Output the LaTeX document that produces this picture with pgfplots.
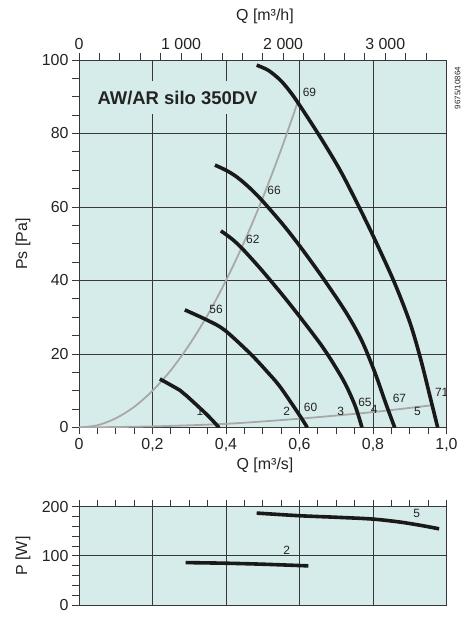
\documentclass[border=0pt]{standalone}
\usepackage{fontspec}
\setmainfont{Liberation Sans}
\usepackage{pgfplots}
\pgfplotsset{compat=1.18}
\definecolor{bgcol}{RGB}{214,236,234}
\definecolor{curvegray}{RGB}{168,168,168}
\definecolor{curveblack}{RGB}{25,25,25}
\definecolor{gridcol}{RGB}{55,55,55}
\definecolor{txt}{RGB}{35,35,35}
\tikzset{lbl/.style={font=\fontsize{12}{14}\selectfont, text=txt, inner sep=0pt}}
\begin{document}
\begin{tikzpicture}[font=\fontsize{16}{19}\selectfont]
\pgfplotsset{
  common/.style={
    scale only axis, width=367.5bp,
    xmin=0, xmax=1,
    axis background/.style={fill=bgcol},
    tick align=outside,
    major tick length=7bp, minor tick length=7bp,
    every tick/.style={gridcol, line width=0.8bp},
    every minor tick/.style={gridcol, line width=0.8bp},
    axis line style={gridcol, line width=0.9bp},
    major grid style={gridcol, line width=0.8bp},
    grid=major,
    ticklabel style={font=\fontsize{16}{19}\selectfont, text=txt},
    /pgf/number format/assume math mode=true,
  },
  fan/.style={curveblack, line width=3.6bp, smooth, tension=0.5, no marks},
  sys/.style={curvegray, line width=1.8bp, smooth, no marks},
}
% ---------- main chart ----------
\begin{axis}[common, at={(0,0)}, anchor=south west, height=367.5bp,
  ymin=0, ymax=100,
  xtick={0,0.2,0.4,0.6,0.8,1}, xticklabels={0,{0,2},{0,4},{0,6},{0,8},{1,0}},
  minor x tick num=3,
  ytick={0,20,40,60,80,100}, minor y tick num=3,
  xtick pos=left, ytick pos=left,
]
\node[fill=bgcol, inner xsep=3bp, inner ysep=9.5bp, font=\fontsize{18.5}{22}\selectfont\bfseries, text=txt]
  at (axis cs:0.268,89.7) {AW/AR silo 350DV};
% system curves
\addplot[sys] coordinates {(0,0)(0.05,0.6)(0.1,2.5)(0.15,5.6)(0.2,10)(0.25,15.6)(0.3,22.5)(0.35,30.6)(0.4,40)(0.45,50.6)(0.5,62.5)(0.55,75.6)(0.594,88.2)};
\addplot[sys] coordinates {(0,0)(0.2,0.3)(0.4,1.0)(0.6,2.4)(0.8,4.2)(0.964,6.1)};
% fan curves
\addplot[fan] coordinates {(0.220,13.2)(0.275,10.1)(0.293,8.6)(0.347,3.6)(0.381,0)};
\addplot[fan] coordinates {(0.288,32.0)(0.347,29.3)(0.395,26.6)(0.465,20.2)(0.510,15.4)(0.547,11.1)(0.601,3.2)(0.621,0)};
\addplot[fan] coordinates {(0.386,53.5)(0.415,51.4)(0.443,48.8)(0.493,43.3)(0.551,36.4)(0.601,30.1)(0.665,21.6)(0.719,12.9)(0.751,6.0)(0.770,0)};
\addplot[fan] coordinates {(0.370,71.4)(0.400,70.0)(0.429,68.2)(0.460,65.6)(0.497,61.9)(0.556,55.1)(0.605,48.8)(0.665,40.5)(0.728,31.1)(0.770,23.5)(0.805,15.0)(0.835,6.5)(0.859,0)};
\addplot[fan] coordinates {(0.4835,98.6)(0.515,97.2)(0.547,94.6)(0.572,91.7)(0.597,88.2)(0.656,79.1)(0.710,70.1)(0.756,61.2)(0.801,52.0)(0.858,39.5)(0.901,28.4)(0.930,18.5)(0.955,8.5)(0.976,0)};
% labels
\node[lbl] at (axis cs:0.627,91.1) {69};
\node[lbl] at (axis cs:0.531,64.6) {66};
\node[lbl] at (axis cs:0.473,51.2) {62};
\node[lbl] at (axis cs:0.373,32.2) {56};
\node[lbl] at (axis cs:0.329,4.3) {1};
\node[lbl] at (axis cs:0.565,4.3) {2};
\node[lbl] at (axis cs:0.630,5.5) {60};
\node[lbl] at (axis cs:0.712,4.5) {3};
\node[lbl] at (axis cs:0.778,6.7) {65};
\node[lbl] at (axis cs:0.803,5.0) {4};
\node[lbl] at (axis cs:0.872,7.9) {67};
\node[lbl] at (axis cs:0.921,4.5) {5};
\node[lbl] at (axis cs:0.987,9.5) {71};
\end{axis}
% ---------- top m3/h axis ----------
\begin{axis}[scale only axis, width=367.5bp, height=367.5bp, at={(0,0)}, anchor=south west,
  xmin=0, xmax=3600, ymin=0, ymax=100,
  axis x line*=top, axis y line=none,
  xtick={0,1000,2000,3000}, xticklabels={0,{1 000},{2 000},{3 000}},
  minor xtick={200,400,600,800,1200,1400,1600,1800,2200,2400,2600,2800,3200,3400},
  tick align=outside, major tick length=7bp, minor tick length=7bp,
  every tick/.style={gridcol, line width=0.8bp},
  every minor tick/.style={gridcol, line width=0.8bp},
  axis line style={gridcol, line width=0.9bp},
  ticklabel style={font=\fontsize{16}{19}\selectfont, text=txt},
]
\addplot[draw=none] coordinates {(0,0)};
\end{axis}
% ---------- power chart ----------
\begin{axis}[common, at={(0,-177.5bp)}, anchor=south west, height=98.3bp,
  ymin=0, ymax=200,
  xtick={0,0.2,0.4,0.6,0.8,1}, xticklabels={},
  minor x tick num=3,
  ytick={0,100,200}, minor y tick num=4,
  xtick pos=right, ytick pos=left,
]
\addplot[fan] coordinates {(0.290,86.3)(0.400,85)(0.500,83)(0.624,79.6)};
\addplot[fan] coordinates {(0.4835,187)(0.601,181.6)(0.700,178.5)(0.798,174.9)(0.873,168.8)(0.930,162)(0.980,155)};
\node[lbl] at (axis cs:0.565,112) {2};
\node[lbl] at (axis cs:0.919,187) {5};
\end{axis}
% axis titles
\node[text=txt] at (186bp,410.8bp) {Q [m³/h]};
\node[text=txt] at (186bp,-37.5bp) {Q [m³/s]};
\node[text=txt, rotate=90] at (-56bp,183.5bp) {Ps [Pa]};
\node[text=txt, rotate=90] at (-56bp,-128.5bp) {P [W]};
\node[text=txt, rotate=90, font=\fontsize{8}{9}\selectfont] at (378.5bp,339.5bp) {9675/10864};
\pgfresetboundingbox
\useasboundingbox (-79bp,-190.5bp) rectangle (384bp,427.5bp);
\end{tikzpicture}
\end{document}
